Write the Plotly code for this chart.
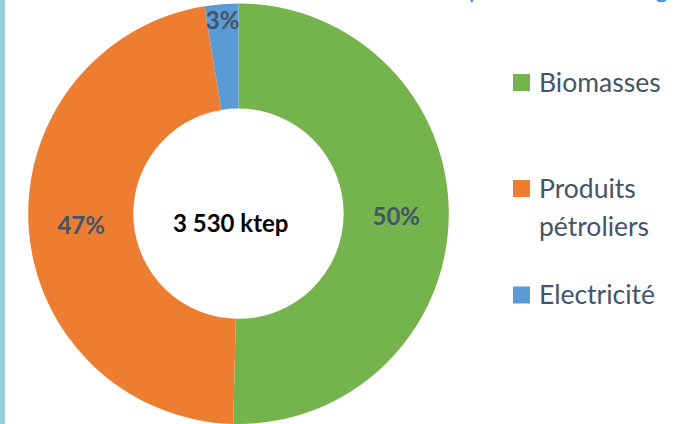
import plotly.graph_objects as go

# ---- data ----
labels = ["Biomasses", "Produits pétroliers", "Electricité"]
legend_lines = [["Biomasses"], ["Produits", "pétroliers"], ["Electricité"]]
shares = [50.4, 47.0, 2.6]          # % of total final consumption
total_label = "3 530 ktep"
title_text = "Répartition de l'énergie"

# ---- styles ----
colors = ["#75B34C", "#ED7D31", "#5B9BD5"]
text_col = "#44546A"
W, H = 674, 424
FONT = "Lato"

fig = go.Figure()
fig.add_trace(go.Pie(
    labels=labels,
    values=shares,
    hole=0.5,
    sort=False,
    direction="clockwise",
    rotation=0,
    marker=dict(colors=colors, line=dict(color="white", width=0)),
    texttemplate="%{percent:.0%}",
    textposition="inside",
    insidetextorientation="horizontal",
    textfont=dict(family=FONT, size=24, color=text_col, weight="bold"),
    domain=dict(x=[28 / W, 449 / W], y=[0, 0.992]),
    showlegend=False,
    hoverinfo="label+percent",
))

annotations = [
    dict(text=f"<b>{total_label}</b>", x=230 / W, y=1 - 222 / H, xref="paper", yref="paper",
         xanchor="center", yanchor="middle", showarrow=False,
         font=dict(family=FONT, size=24, color="#000000")),
    dict(text=title_text, x=688 / W, y=1 - 5 / H, xref="paper", yref="paper",
         xanchor="right", yanchor="bottom", showarrow=False,
         font=dict(family=FONT, size=24, color="#2E8BD6")),
]
shapes = [
    dict(type="rect", xref="paper", yref="paper", x0=0, x1=5 / W, y0=0, y1=1,
         fillcolor="#93CFDB", line=dict(width=0), layer="below"),
]

# custom legend (item positions in px from top)
sq_centers = [82.5, 188.5, 295]
line_gap = 38
for lines, col, yc in zip(legend_lines, colors, sq_centers):
    shapes.append(dict(type="rect", xref="paper", yref="paper",
                       x0=513 / W, x1=530 / W,
                       y0=1 - (yc + 8.5) / H, y1=1 - (yc - 8.5) / H,
                       fillcolor=col, line=dict(width=0)))
    for k, ln in enumerate(lines):
        annotations.append(dict(text=ln, x=537 / W, y=1 - (yc - 1 + k * line_gap) / H,
                                xref="paper", yref="paper", xanchor="left", yanchor="middle",
                                showarrow=False,
                                font=dict(family=FONT, size=26.5, color=text_col)))

fig.update_layout(
    width=W, height=H,
    margin=dict(l=0, r=0, t=0, b=0),
    paper_bgcolor="white",
    plot_bgcolor="white",
    annotations=annotations,
    shapes=shapes,
    uniformtext=dict(minsize=24, mode="show"),
    showlegend=False,
)

fig.write_html("out.html",
               config={"displayModeBar": False},
               post_script="document.body.style.margin='0';document.body.style.overflow='hidden';")
